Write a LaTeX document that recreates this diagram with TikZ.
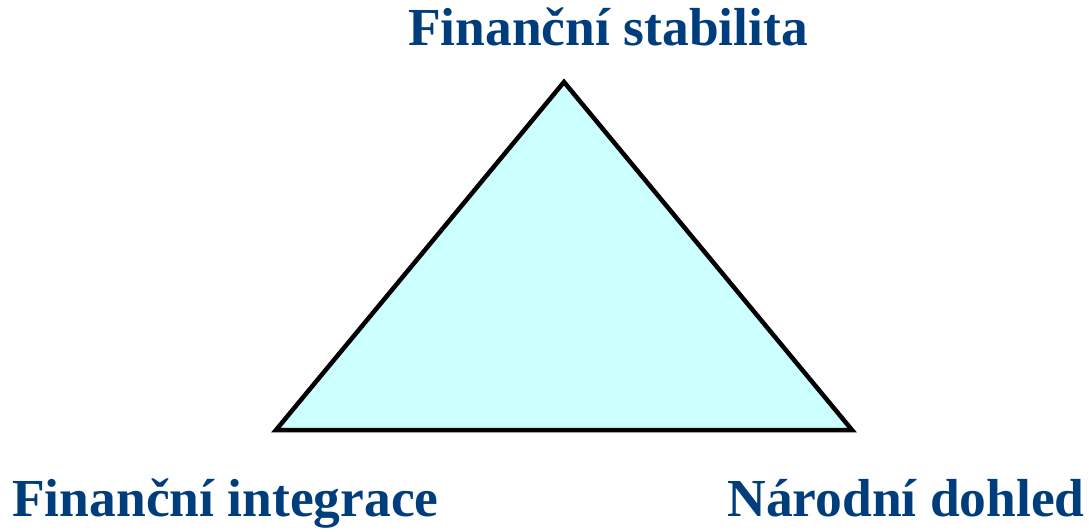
\documentclass[tikz,border=0pt]{standalone}
\usepackage{fontspec}
\setmainfont{Liberation Serif}
\definecolor{labelblue}{HTML}{003D7D}
\definecolor{trifill}{HTML}{CCFFFF}
\begin{document}
\begin{tikzpicture}[x=1pt,y=-1pt,
  lbl/.style={text=labelblue,font=\fontsize{53.5}{64}\selectfont\bfseries,inner sep=0pt}]
\useasboundingbox (0,0) rectangle (1089,531);
\coordinate (top) at (564,82);
\coordinate (bl) at (276,430);
\coordinate (br) at (852,430);
\draw[line width=4.5pt,fill=trifill,line join=miter] (top) -- (br) -- (bl) -- cycle;
\node[lbl,anchor=base] (t1) at (608,45) {Finanční stabilita};
\node[lbl,anchor=base west] (t2) at (12,516) {Finanční integrace};
\node[lbl,anchor=base east] (t3) at (1085,516) {Národní dohled};
\end{tikzpicture}
\end{document}
